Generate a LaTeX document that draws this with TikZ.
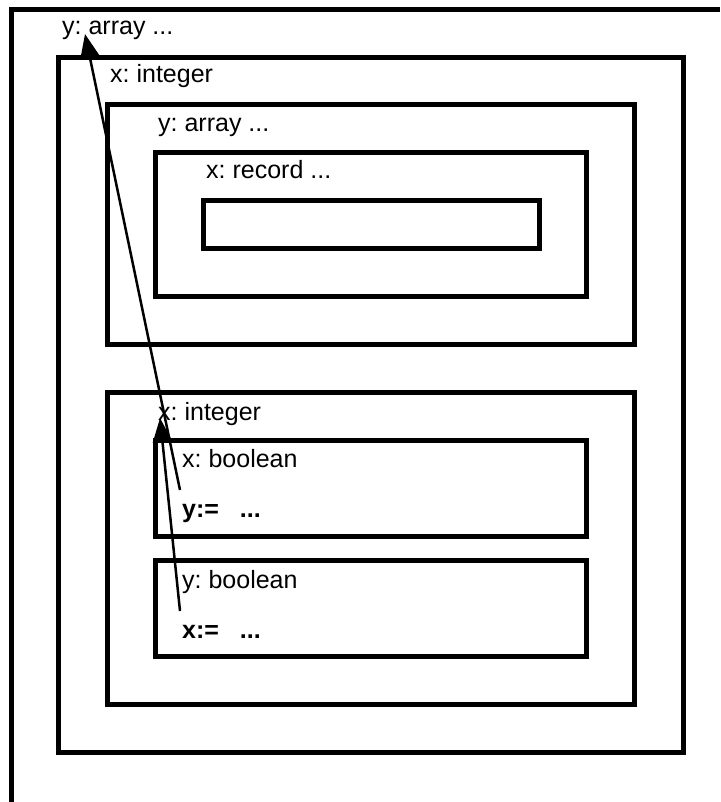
\documentclass[tikz,border=0pt]{standalone}
\usepackage{fontspec}
\setmainfont{Liberation Sans}
\usetikzlibrary{arrows.meta}
\frenchspacing

\begin{document}
\begin{tikzpicture}[x=1pt,y=-1pt,
    frame/.style={line width=5pt},
    lbl/.style={anchor=base west,inner sep=0pt,font=\fontsize{25}{30}\selectfont},
    stmt/.style={lbl,font=\fontsize{25}{30}\selectfont\bfseries},
    ref/.style={line width=2.5pt,-{Triangle[length=24pt,width=19pt]}}]
  \useasboundingbox (0,0) rectangle (720,802);
  % outermost block, runs off the page
  \draw[frame] (11,802) -- (11,9.5) -- (720,9.5);
  % nested blocks
  \draw[frame] (58.5,57.5) rectangle (683.5,752);
  \draw[frame] (107.5,104.5) rectangle (634.5,344);
  \draw[frame] (155.5,152.5) rectangle (586.5,296.5);
  \draw[frame] (203,200.5) rectangle (539.5,248.5);
  \draw[frame] (107.5,392.5) rectangle (634.5,704.5);
  \foreach \t in {440.5,560.5} {\draw[frame] (155.5,\t) rectangle (586.5,\t+96);};
  % declarations and statements
  \node[lbl] (ya) at (62,35) {y: array ...};
  \node[lbl] (xi) at (110,83) {x: integer};
  \node[lbl] (yb) at (158,132) {y: array ...};
  \node[lbl] (xr) at (206,179) {x: record ...};
  \node[lbl] (xj) at (158,420) {x: integer};
  \node[lbl] (xb) at (182,467) {x: boolean};
  \node[stmt] (yset) at (182,517) {y:=\ \ \ ...};
  \node[lbl] (ybool) at (182,588) {y: boolean};
  \node[stmt] (xset) at (182,638) {x:=\ \ \ ...};
  % uses point back to their declarations
  \coordinate (yuse) at (180,490);
  \coordinate (ydecl) at (85,34);
  \coordinate (xuse) at (180,611);
  \coordinate (xdecl) at (160,418);
  \draw[ref] (yuse) -- (ydecl);
  \draw[ref] (xuse) -- (xdecl);
\end{tikzpicture}
\end{document}
